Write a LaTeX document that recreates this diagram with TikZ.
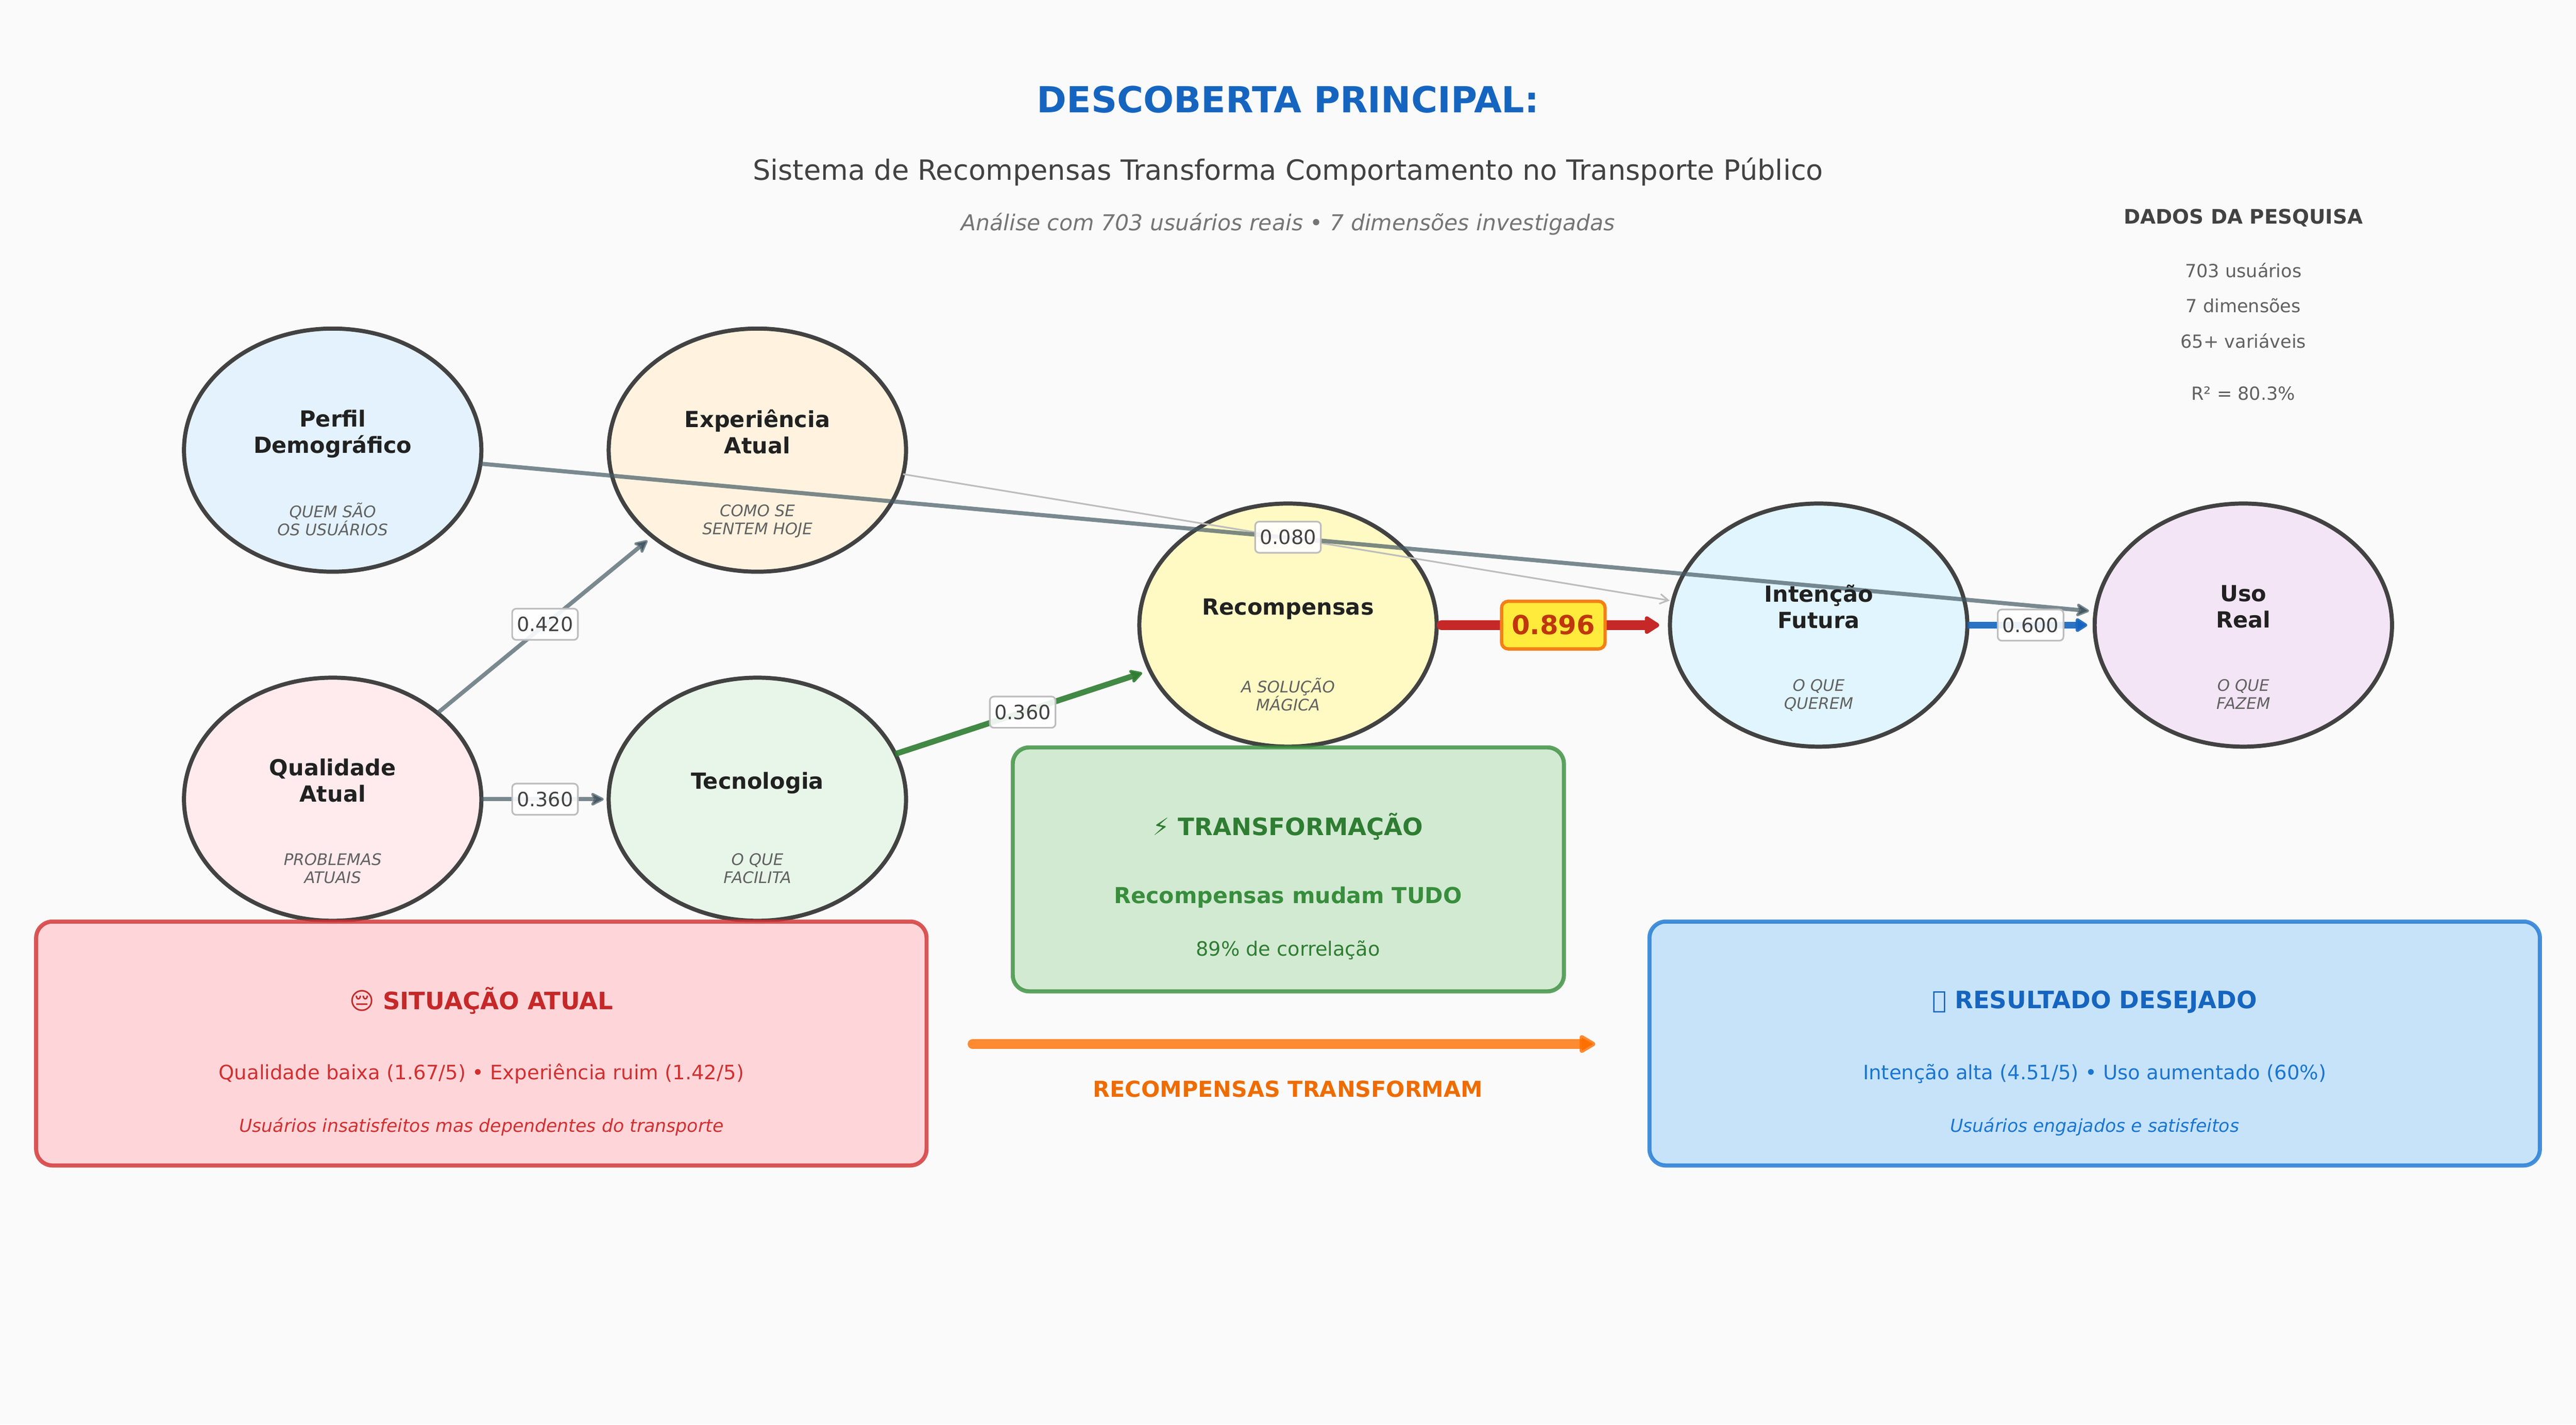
\documentclass[tikz,border=0pt]{standalone}
\usepackage{fontspec}
\setmainfont{DejaVu Sans}
\usetikzlibrary{arrows.meta,shapes.geometric}
\definecolor{fundo}{HTML}{FAFAFA}
\definecolor{contorno}{HTML}{424242}
\definecolor{cinzaseta}{HTML}{455A64}
\definecolor{cinzanota}{HTML}{616161}
\definecolor{cinzaitalico}{HTML}{757575}
\definecolor{cinzaclaro}{HTML}{BDBDBD}
\definecolor{azultitulo}{HTML}{1565C0}
\definecolor{azulmedio}{HTML}{1976D2}
\definecolor{verdeescuro}{HTML}{2E7D32}
\definecolor{verdeseta}{HTML}{388E3C}
\definecolor{vermelho}{HTML}{C62828}
\definecolor{vermelhomedio}{HTML}{D32F2F}
\definecolor{laranja}{HTML}{FF6F00}
\definecolor{laranjatexto}{HTML}{EF6C00}
\definecolor{corperfil}{HTML}{E3F2FD}
\definecolor{corexper}{HTML}{FFF3E0}
\definecolor{corqual}{HTML}{FFEBEE}
\definecolor{cortecno}{HTML}{E8F5E9}
\definecolor{correcomp}{HTML}{FFF9C4}
\definecolor{corinten}{HTML}{E1F5FE}
\definecolor{coruso}{HTML}{F3E5F5}
\definecolor{corsituacao}{HTML}{FFCDD2}
\definecolor{cortransf}{HTML}{C8E6C9}
\definecolor{corresultado}{HTML}{BBDEFB}
\definecolor{amarelopeso}{HTML}{FFEB3B}
\definecolor{laranjapeso}{HTML}{F57F17}
\definecolor{textopeso}{HTML}{BF360C}
\tikzset{
  fase/.style={draw=contorno,line width=2.5pt,ellipse,minimum width=181pt,minimum height=148pt,inner sep=0pt,outer sep=0pt},
  nome/.style={align=center,text=black!87,execute at begin node=\strut,execute at end node=\strut,font=\fontsize{13.5}{16}\selectfont\bfseries},
  nota/.style={align=center,text=cinzanota,execute at begin node=\strut,execute at end node=\strut,font=\fontsize{9.7}{11}\selectfont\itshape},
  peso/.style={draw=cinzaclaro,fill=white,fill opacity=.9,text opacity=1,rounded corners=2.5pt,line width=1pt,text=contorno,minimum width=40pt,minimum height=19pt,inner sep=0pt,font=\fontsize{12}{14}\selectfont},
  caixa/.style={rounded corners=10pt,line width=2.5pt,inner sep=0pt,outer sep=0pt,fill opacity=.8,draw opacity=.8},
  seta/.style={line width=2.5pt,draw=cinzaseta,draw opacity=.7,-{Stealth[length=10pt,width=10pt,inset=3pt,round]}},
}
\begin{document}
\begin{tikzpicture}[x=1pt,y=-1pt]
  \useasboundingbox (0,0) rectangle (1568,867.2);
  \fill[fundo] (0,0) rectangle (1568,867.2);
  % titulos
  \node[text=azultitulo,font=\fontsize{21.85}{26}\selectfont\bfseries] (titulo) at (784,60.5) {DESCOBERTA PRINCIPAL:};
  \node[text=contorno,font=\fontsize{17}{21}\selectfont] (subtitulo) at (784,104.5) {Sistema de Recompensas Transforma Comportamento no Transporte Público};
  \node[text=cinzaitalico,font=\fontsize{13.35}{16}\selectfont\itshape] (analise) at (784,136.5) {Análise com 703 usuários reais • 7 dimensões investigadas};
  % dados
  \node[text=contorno,font=\fontsize{12.15}{14}\selectfont\bfseries] (dados) at (1365.5,132.5) {DADOS DA PESQUISA};
  \node[text=cinzanota,font=\fontsize{11}{13}\selectfont] (dadosa) at (1365.5,164.5) {703 usuários};
  \node[text=cinzanota,font=\fontsize{11}{13}\selectfont] (dadosb) at (1365.5,186) {7 dimensões};
  \node[text=cinzanota,font=\fontsize{11}{13}\selectfont] (dadosc) at (1365.5,207.5) {65+ variáveis};
  \node[text=cinzanota,font=\fontsize{11}{13}\selectfont] (dadosd) at (1365.5,239.5) {R² = 80.3\%};
  % elipses
  \node[fase,fill=corperfil] (perfil) at (202.5,274) {};
  \node[fase,fill=corexper] (exper) at (461,274) {};
  \node[fase,fill=corqual] (qual) at (202.5,486.5) {};
  \node[fase,fill=cortecno] (tecno) at (461,486.5) {};
  \node[fase,fill=correcomp] (recomp) at (784,380.5) {};
  \node[fase,fill=corinten] (inten) at (1107,380.5) {};
  \node[fase,fill=coruso] (uso) at (1365.5,380.5) {};
  % setas
  \draw[line width=1pt,draw=cinzaclaro,-{Straight Barb[length=5pt,width=6pt]},shorten >=2pt] (exper) -- (inten);
  \draw[seta,shorten >=4pt] (perfil) -- (uso);
  \draw[seta,shorten >=4pt] (qual) -- (exper);
  \draw[seta,shorten >=3pt] (qual) -- (tecno);
  \draw[line width=3.5pt,draw=verdeescuro,draw opacity=.9,-{Stealth[length=9pt,width=10pt,inset=2pt,round]},shorten >=5pt] (tecno) -- (recomp);
  \draw[line width=6pt,draw=vermelho,line cap=round,-{Stealth[length=10pt,width=12pt,inset=0pt,round]},shorten >=6.5pt,shorten <=3pt] (recomp) -- (inten);
  \draw[line width=4pt,draw=azultitulo,draw opacity=.9,-{Stealth[length=8pt,width=9.5pt,inset=0pt,round]},shorten >=4.5pt] (inten) -- (uso);
  % pesos
  \node[peso] (pesoa) at (331.75,380) {0.420};
  \node[peso] (pesob) at (331.75,486.5) {0.360};
  \node[peso] (pesoc) at (622.5,433.5) {0.360};
  \node[peso] (pesod) at (784,327) {0.080};
  \node[peso] (pesoe) at (1236,380.5) {0.600};
  \node[draw=laranjapeso,fill=amarelopeso,line width=2pt,rounded corners=4pt,minimum width=63pt,minimum height=29pt,inner sep=0pt,text=textopeso,font=\fontsize{16}{18}\selectfont\bfseries] (pesof) at (945.5,380.5) {0.896};
  % textos das elipses
  \node[nome] (perfilt) at (202.5,265) {Perfil\\Demográfico};
  \node[nota] (perfiln) at (202.5,317.8) {QUEM SÃO\\OS USUÁRIOS};
  \node[nome] (expert) at (461,265) {Experiência\\Atual};
  \node[nota] (expern) at (461,317.8) {COMO SE\\SENTEM HOJE};
  \node[nome] (qualt) at (202.5,477.5) {Qualidade\\Atual};
  \node[nota] (qualn) at (202.5,530.3) {PROBLEMAS\\ATUAIS};
  \node[nome] (tecnot) at (461,477) {Tecnologia};
  \node[nota] (tecnon) at (461,530.3) {O QUE\\FACILITA};
  \node[nome] (recompt) at (784,371) {Recompensas};
  \node[nota] (recompn) at (784,424.3) {A SOLUÇÃO\\MÁGICA};
  \node[nome] (intent) at (1107,371.5) {Intenção\\Futura};
  \node[nota] (intenn) at (1107,424.3) {O QUE\\QUEREM};
  \node[nome] (usot) at (1365.5,371.5) {Uso\\Real};
  \node[nota] (uson) at (1365.5,424.3) {O QUE\\FAZEM};
  % caixas
  \node[caixa,draw=vermelhomedio,fill=corsituacao,minimum width=542pt,minimum height=148.5pt] (situacao) at (293,635.2) {};
  \node[caixa,draw=verdeseta,fill=cortransf,minimum width=335.5pt,minimum height=148.5pt] (transf) at (784.2,529.2) {};
  \node[caixa,draw=azulmedio,fill=corresultado,minimum width=542pt,minimum height=148.5pt] (resultado) at (1275,635.2) {};
  % situacao atual
  \node[text=vermelho,font=\fontsize{14.6}{18}\selectfont\bfseries] (situacaot) at (293,609) {😔 SITUAÇÃO ATUAL};
  \node[text=vermelhomedio,font=\fontsize{12.1}{15}\selectfont] (situacaoa) at (293,653.5) {Qualidade baixa (1.67/5) • Experiência ruim (1.42/5)};
  \node[text=vermelhomedio,font=\fontsize{10.9}{13}\selectfont\itshape] (situacaob) at (293,686) {Usuários insatisfeitos mas dependentes do transporte};
  % transformacao
  \node[text=verdeescuro,font=\fontsize{14.6}{18}\selectfont\bfseries] (transft) at (784,503) {⚡ TRANSFORMAÇÃO};
  \node[text=verdeseta,font=\fontsize{13.4}{16}\selectfont\bfseries] (transfa) at (784,546.3) {Recompensas mudam TUDO};
  \node[text=verdeescuro,font=\fontsize{12}{14}\selectfont] (transfb) at (784,578.5) {89\% de correlação};
  % resultado
  \node[text=azultitulo,font=\fontsize{14.6}{18}\selectfont\bfseries] (resultadot) at (1275,610) {\XeTeXglyph0\relax\ RESULTADO DESEJADO};
  \node[text=azulmedio,font=\fontsize{12.1}{15}\selectfont] (resultadoa) at (1275,653.5) {Intenção alta (4.51/5) • Uso aumentado (60\%)};
  \node[text=azulmedio,font=\fontsize{10.9}{13}\selectfont\itshape] (resultadob) at (1275,686) {Usuários engajados e satisfeitos};
  % seta central
  \coordinate (inicio) at (592,635.5);
  \coordinate (fim) at (971,635.5);
  \draw[line width=6pt,draw=laranja,draw opacity=.8,line cap=round,-{Stealth[length=11pt,width=12pt,inset=0pt,round]}] (inicio) -- (fim);
  \node[text=laranjatexto,font=\fontsize{13.4}{16}\selectfont\bfseries] (transformam) at (784,663) {RECOMPENSAS TRANSFORMAM};
\end{tikzpicture}
\end{document}
